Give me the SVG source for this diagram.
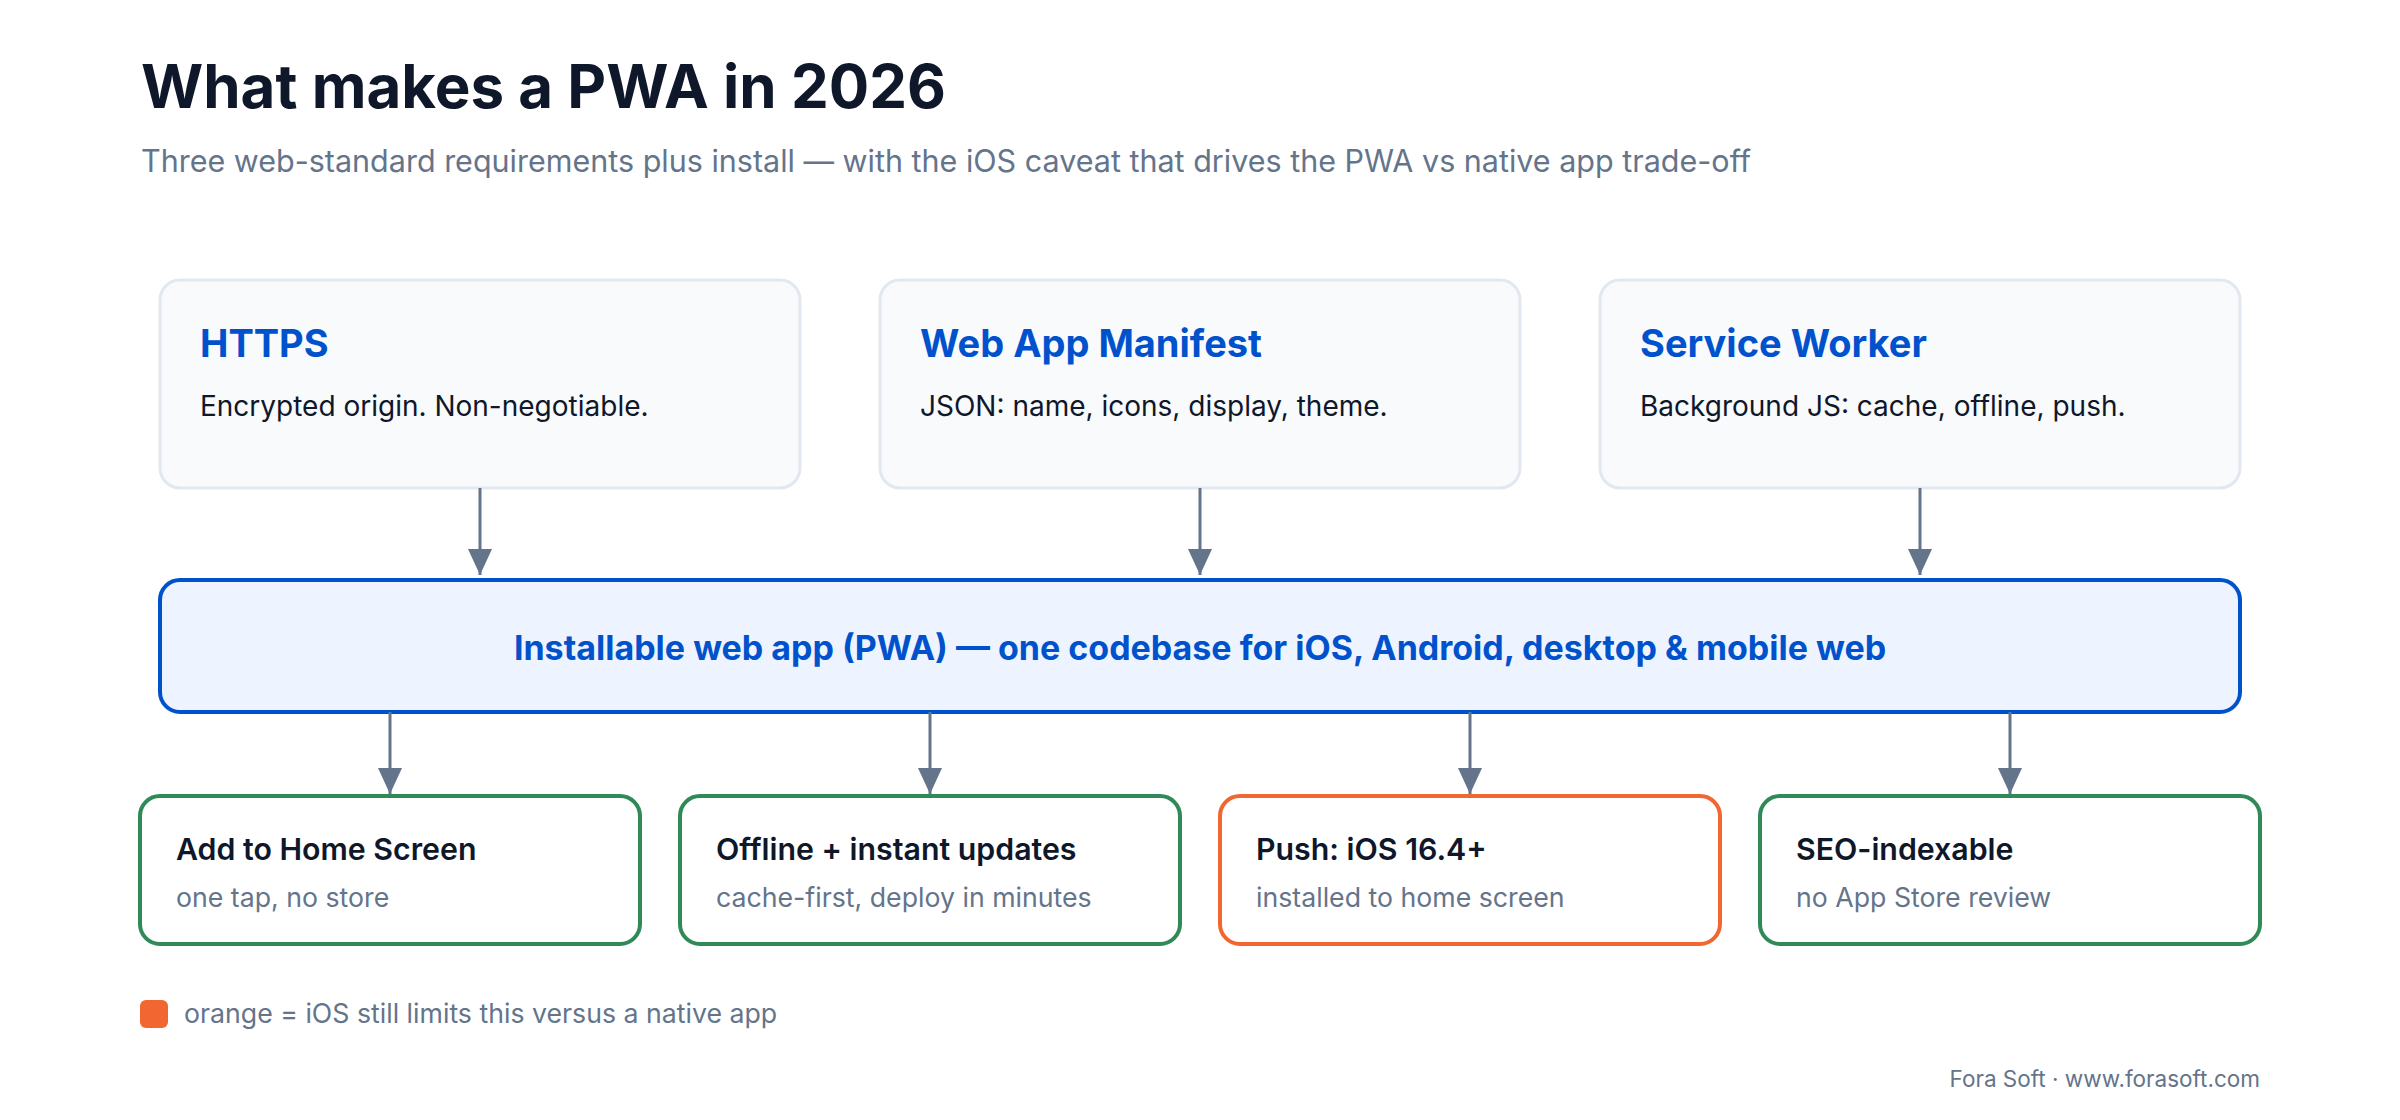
<svg xmlns="http://www.w3.org/2000/svg" width="2400" height="1120" viewBox="0 0 2400 1120">
  <defs>
    <marker id="arrow" viewBox="0 0 26 24" refX="26" refY="12" markerWidth="26" markerHeight="24" markerUnits="userSpaceOnUse" orient="auto">
      <path d="M0,0 L26,12 L0,24 Z" fill="#64748b"/>
    </marker>
    <style>
      text { font-family: Inter, "Noto Sans", "Liberation Sans", sans-serif; }
      .title { font-size: 60px; font-weight: 700; fill: #0f172a; }
      .subtitle { font-size: 30.5px; font-weight: 400; fill: #64748b; }
      .req { fill: #f8fafc; stroke: #e2e8f0; stroke-width: 3; }
      .req-title { font-size: 38px; font-weight: 700; fill: #0052cc; }
      .req-body { font-size: 28px; font-weight: 400; fill: #0f172a; }
      .hub { fill: #eef4ff; stroke: #0052cc; stroke-width: 4; }
      .hub-text { font-size: 34px; font-weight: 700; fill: #0052cc; }
      .ok { fill: #ffffff; stroke: #2f8a57; stroke-width: 4; }
      .warn { fill: #ffffff; stroke: #f26632; stroke-width: 4; }
      .out-title { font-size: 30.3px; font-weight: 600; fill: #0f172a; }
      .out-body { font-size: 26.7px; font-weight: 400; fill: #64748b; }
      .legend { font-size: 26.7px; font-weight: 400; fill: #64748b; }
      .footer { font-size: 22.5px; font-weight: 400; fill: #64748b; }
      .conn { stroke: #64748b; stroke-width: 3; fill: none; }
    </style>
  </defs>

  <rect width="2400" height="1120" fill="#ffffff"/>

  <text class="title" x="141" y="108">What makes a PWA in 2026</text>
  <text class="subtitle" x="141" y="172">Three web-standard requirements plus install — with the iOS caveat that drives the PWA vs native app trade-off</text>

  <g id="node-https">
    <rect class="req" x="160" y="280" width="640" height="208" rx="20"/>
    <text class="req-title" x="200" y="357">HTTPS</text>
    <text class="req-body" x="200" y="416">Encrypted origin. Non-negotiable.</text>
  </g>
  <g id="node-manifest">
    <rect class="req" x="880" y="280" width="640" height="208" rx="20"/>
    <text class="req-title" x="920" y="357">Web App Manifest</text>
    <text class="req-body" x="920" y="416">JSON: name, icons, display, theme.</text>
  </g>
  <g id="node-sw">
    <rect class="req" x="1600" y="280" width="640" height="208" rx="20"/>
    <text class="req-title" x="1640" y="357">Service Worker</text>
    <text class="req-body" x="1640" y="416">Background JS: cache, offline, push.</text>
  </g>

  <g id="node-pwa">
    <rect class="hub" x="160" y="580" width="2080" height="132" rx="20"/>
    <text class="hub-text" x="1200" y="660" text-anchor="middle">Installable web app (PWA) — one codebase for iOS, Android, desktop &amp; mobile web</text>
  </g>

  <g id="node-a2hs">
    <rect class="ok" x="140" y="796" width="500" height="148" rx="20"/>
    <text class="out-title" x="176" y="860">Add to Home Screen</text>
    <text class="out-body" x="176" y="907">one tap, no store</text>
  </g>
  <g id="node-offline">
    <rect class="ok" x="680" y="796" width="500" height="148" rx="20"/>
    <text class="out-title" x="716" y="860">Offline + instant updates</text>
    <text class="out-body" x="716" y="907">cache-first, deploy in minutes</text>
  </g>
  <g id="node-push">
    <rect class="warn" x="1220" y="796" width="500" height="148" rx="20"/>
    <text class="out-title" x="1256" y="860">Push: iOS 16.4+</text>
    <text class="out-body" x="1256" y="907">installed to home screen</text>
  </g>
  <g id="node-seo">
    <rect class="ok" x="1760" y="796" width="500" height="148" rx="20"/>
    <text class="out-title" x="1796" y="860">SEO-indexable</text>
    <text class="out-body" x="1796" y="907">no App Store review</text>
  </g>

  <g id="connectors">
    <line class="conn" x1="480" y1="488" x2="480" y2="575" marker-end="url(#arrow)"/>
    <line class="conn" x1="1200" y1="488" x2="1200" y2="575" marker-end="url(#arrow)"/>
    <line class="conn" x1="1920" y1="488" x2="1920" y2="575" marker-end="url(#arrow)"/>
    <line class="conn" x1="390" y1="712" x2="390" y2="794" marker-end="url(#arrow)"/>
    <line class="conn" x1="930" y1="712" x2="930" y2="794" marker-end="url(#arrow)"/>
    <line class="conn" x1="1470" y1="712" x2="1470" y2="794" marker-end="url(#arrow)"/>
    <line class="conn" x1="2010" y1="712" x2="2010" y2="794" marker-end="url(#arrow)"/>
  </g>

  <g id="legend">
    <rect x="140" y="1000" width="28" height="28" rx="6" fill="#f26632"/>
    <text class="legend" x="184" y="1023">orange = iOS still limits this versus a native app</text>
  </g>

  <text class="footer" x="2260" y="1087" text-anchor="end">Fora Soft · www.forasoft.com</text>
</svg>
